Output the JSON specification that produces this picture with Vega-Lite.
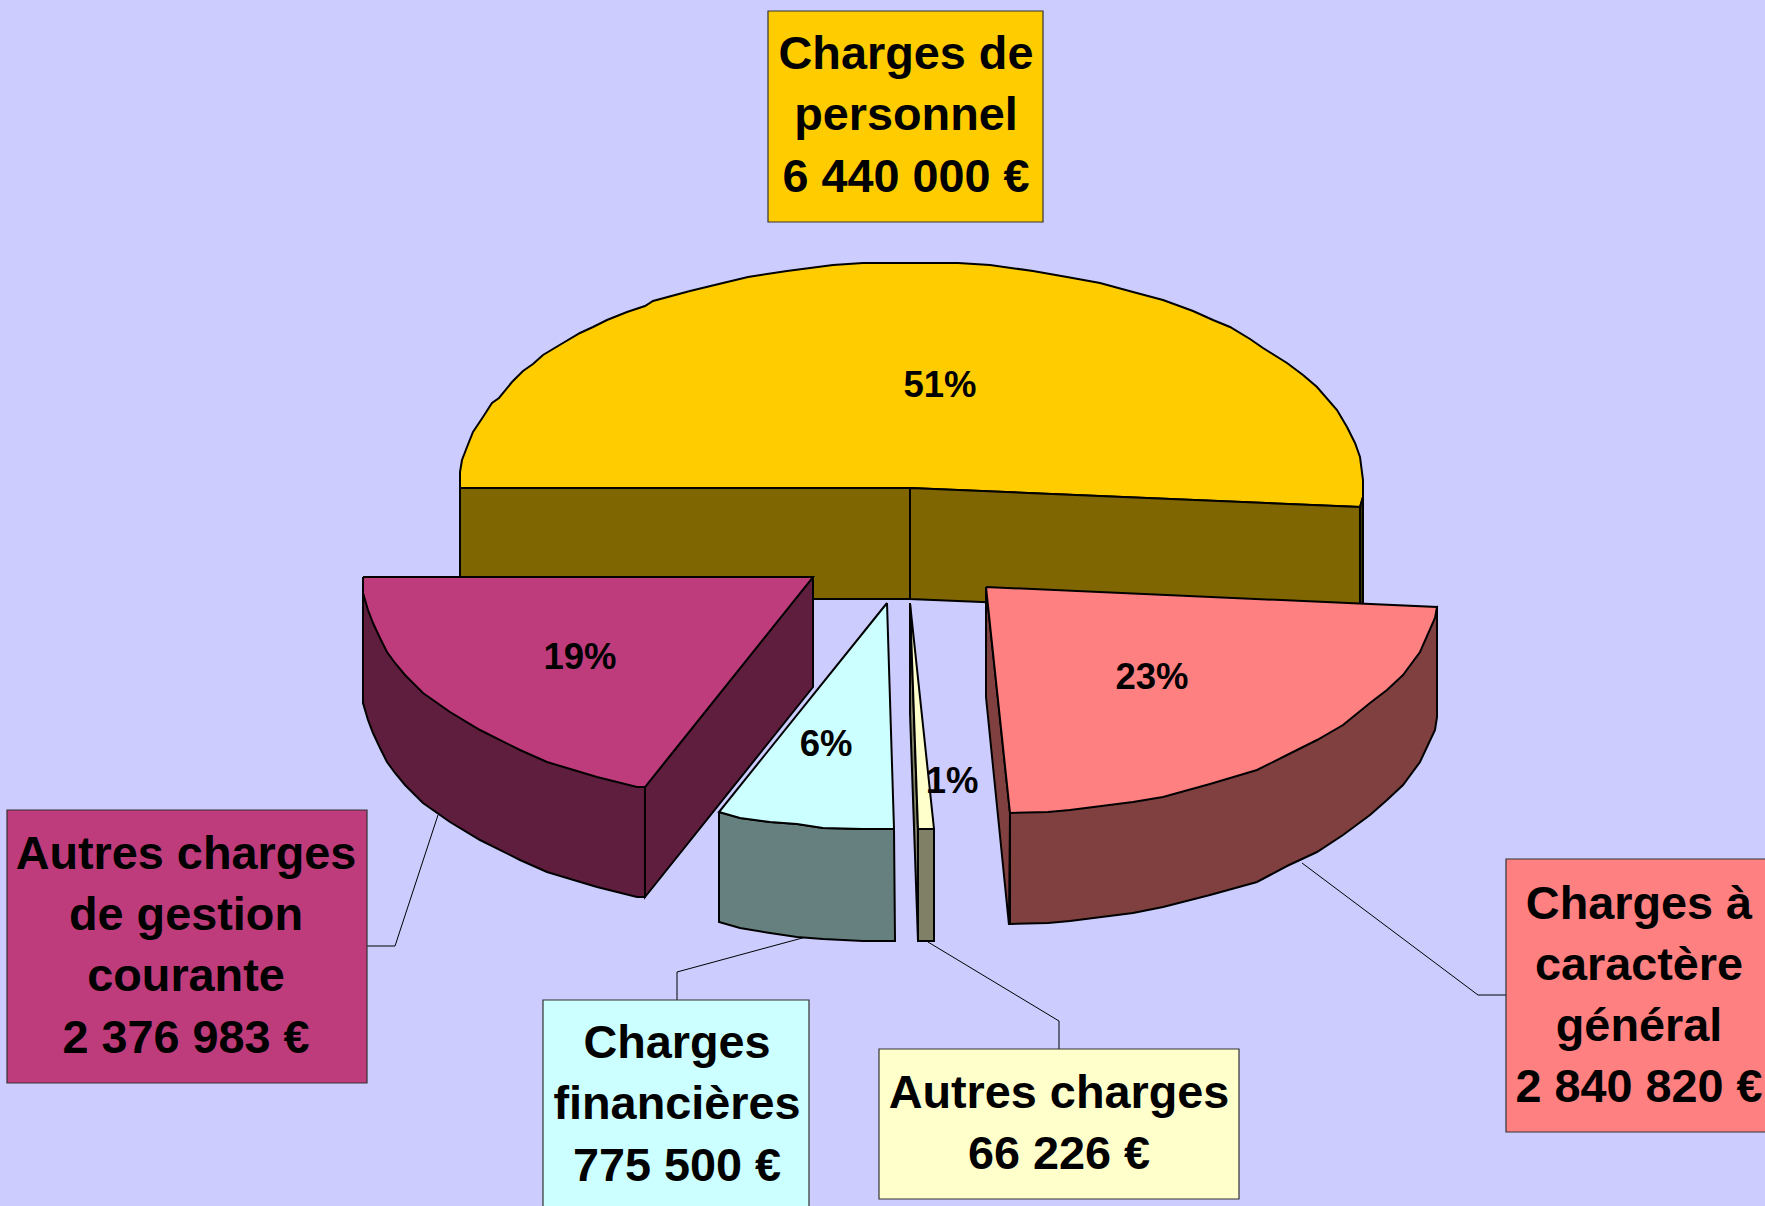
{"$schema":"https://vega.github.io/schema/vega-lite/v6.json","width":1765,"height":1206,"padding":0,"autosize":"none","background":"#CCCCFF","config":{"view":{"stroke":null}},
"datasets":{
"faces":[
{"shape":"p-top","surface":"personnel dessus","i":1,"x":460,"y":488},{"shape":"p-top","surface":"personnel dessus","i":2,"x":460,"y":472},{"shape":"p-top","surface":"personnel dessus","i":3,"x":462,"y":460},{"shape":"p-top","surface":"personnel dessus","i":4,"x":467,"y":447},{"shape":"p-top","surface":"personnel dessus","i":5,"x":473,"y":432},{"shape":"p-top","surface":"personnel dessus","i":6,"x":483,"y":417},{"shape":"p-top","surface":"personnel dessus","i":7,"x":492,"y":403},{"shape":"p-top","surface":"personnel dessus","i":8,"x":499,"y":398},{"shape":"p-top","surface":"personnel dessus","i":9,"x":512,"y":382},{"shape":"p-top","surface":"personnel dessus","i":10,"x":523,"y":371},{"shape":"p-top","surface":"personnel dessus","i":11,"x":533,"y":364},{"shape":"p-top","surface":"personnel dessus","i":12,"x":543,"y":355},{"shape":"p-top","surface":"personnel dessus","i":13,"x":563,"y":343},{"shape":"p-top","surface":"personnel dessus","i":14,"x":580,"y":333},{"shape":"p-top","surface":"personnel dessus","i":15,"x":593,"y":327},{"shape":"p-top","surface":"personnel dessus","i":16,"x":607,"y":320},{"shape":"p-top","surface":"personnel dessus","i":17,"x":627,"y":312},{"shape":"p-top","surface":"personnel dessus","i":18,"x":645,"y":306},{"shape":"p-top","surface":"personnel dessus","i":19,"x":653,"y":301},{"shape":"p-top","surface":"personnel dessus","i":20,"x":690,"y":291},{"shape":"p-top","surface":"personnel dessus","i":21,"x":723,"y":283},{"shape":"p-top","surface":"personnel dessus","i":22,"x":748,"y":277},{"shape":"p-top","surface":"personnel dessus","i":23,"x":787,"y":271},{"shape":"p-top","surface":"personnel dessus","i":24,"x":833,"y":265},{"shape":"p-top","surface":"personnel dessus","i":25,"x":863,"y":263},{"shape":"p-top","surface":"personnel dessus","i":26,"x":958,"y":263},{"shape":"p-top","surface":"personnel dessus","i":27,"x":990,"y":265},{"shape":"p-top","surface":"personnel dessus","i":28,"x":1033,"y":271},{"shape":"p-top","surface":"personnel dessus","i":29,"x":1067,"y":277},{"shape":"p-top","surface":"personnel dessus","i":30,"x":1100,"y":283},{"shape":"p-top","surface":"personnel dessus","i":31,"x":1133,"y":292},{"shape":"p-top","surface":"personnel dessus","i":32,"x":1163,"y":300},{"shape":"p-top","surface":"personnel dessus","i":33,"x":1193,"y":311},{"shape":"p-top","surface":"personnel dessus","i":34,"x":1213,"y":320},{"shape":"p-top","surface":"personnel dessus","i":35,"x":1230,"y":327},{"shape":"p-top","surface":"personnel dessus","i":36,"x":1250,"y":339},{"shape":"p-top","surface":"personnel dessus","i":37,"x":1263,"y":348},{"shape":"p-top","surface":"personnel dessus","i":38,"x":1287,"y":363},{"shape":"p-top","surface":"personnel dessus","i":39,"x":1303,"y":375},{"shape":"p-top","surface":"personnel dessus","i":40,"x":1317,"y":387},{"shape":"p-top","surface":"personnel dessus","i":41,"x":1337,"y":410},{"shape":"p-top","surface":"personnel dessus","i":42,"x":1347,"y":427},{"shape":"p-top","surface":"personnel dessus","i":43,"x":1355,"y":443},{"shape":"p-top","surface":"personnel dessus","i":44,"x":1360,"y":457},{"shape":"p-top","surface":"personnel dessus","i":45,"x":1363,"y":480},{"shape":"p-top","surface":"personnel dessus","i":46,"x":1363,"y":497},{"shape":"p-top","surface":"personnel dessus","i":47,"x":1360,"y":507},{"shape":"p-top","surface":"personnel dessus","i":48,"x":910,"y":488},{"shape":"p-top","surface":"personnel dessus","i":49,"x":460,"y":488},
{"shape":"p-s1","surface":"personnel côté","i":1,"x":460,"y":488},{"shape":"p-s1","surface":"personnel côté","i":2,"x":910,"y":488},{"shape":"p-s1","surface":"personnel côté","i":3,"x":910,"y":599},{"shape":"p-s1","surface":"personnel côté","i":4,"x":460,"y":599},{"shape":"p-s1","surface":"personnel côté","i":5,"x":460,"y":488},
{"shape":"p-s2","surface":"personnel côté","i":1,"x":910,"y":488},{"shape":"p-s2","surface":"personnel côté","i":2,"x":1360,"y":507},{"shape":"p-s2","surface":"personnel côté","i":3,"x":1360,"y":618},{"shape":"p-s2","surface":"personnel côté","i":4,"x":910,"y":599},{"shape":"p-s2","surface":"personnel côté","i":5,"x":910,"y":488},
{"shape":"p-e","surface":"personnel bord","i":1,"x":1360,"y":507},{"shape":"p-e","surface":"personnel bord","i":2,"x":1363,"y":497},{"shape":"p-e","surface":"personnel bord","i":3,"x":1363,"y":606},{"shape":"p-e","surface":"personnel bord","i":4,"x":1360,"y":606},{"shape":"p-e","surface":"personnel bord","i":5,"x":1360,"y":507},
{"shape":"f-s","surface":"financières côté","i":1,"x":719,"y":812},{"shape":"f-s","surface":"financières côté","i":2,"x":740,"y":818},{"shape":"f-s","surface":"financières côté","i":3,"x":770,"y":822},{"shape":"f-s","surface":"financières côté","i":4,"x":797,"y":824},{"shape":"f-s","surface":"financières côté","i":5,"x":823,"y":828},{"shape":"f-s","surface":"financières côté","i":6,"x":863,"y":829},{"shape":"f-s","surface":"financières côté","i":7,"x":894,"y":829},{"shape":"f-s","surface":"financières côté","i":8,"x":895,"y":941},{"shape":"f-s","surface":"financières côté","i":9,"x":863,"y":941},{"shape":"f-s","surface":"financières côté","i":10,"x":823,"y":939},{"shape":"f-s","surface":"financières côté","i":11,"x":797,"y":937},{"shape":"f-s","surface":"financières côté","i":12,"x":770,"y":933},{"shape":"f-s","surface":"financières côté","i":13,"x":740,"y":928},{"shape":"f-s","surface":"financières côté","i":14,"x":719,"y":922},{"shape":"f-s","surface":"financières côté","i":15,"x":719,"y":812},
{"shape":"f-t","surface":"financières dessus","i":1,"x":887,"y":603},{"shape":"f-t","surface":"financières dessus","i":2,"x":894,"y":829},{"shape":"f-t","surface":"financières dessus","i":3,"x":863,"y":829},{"shape":"f-t","surface":"financières dessus","i":4,"x":823,"y":828},{"shape":"f-t","surface":"financières dessus","i":5,"x":797,"y":824},{"shape":"f-t","surface":"financières dessus","i":6,"x":770,"y":822},{"shape":"f-t","surface":"financières dessus","i":7,"x":740,"y":818},{"shape":"f-t","surface":"financières dessus","i":8,"x":719,"y":812},{"shape":"f-t","surface":"financières dessus","i":9,"x":887,"y":603},
{"shape":"a-w","surface":"autres côté","i":1,"x":910,"y":603},{"shape":"a-w","surface":"autres côté","i":2,"x":918,"y":829},{"shape":"a-w","surface":"autres côté","i":3,"x":918,"y":941},{"shape":"a-w","surface":"autres côté","i":4,"x":910,"y":713},{"shape":"a-w","surface":"autres côté","i":5,"x":910,"y":603},
{"shape":"a-s","surface":"autres côté","i":1,"x":918,"y":829},{"shape":"a-s","surface":"autres côté","i":2,"x":934,"y":829},{"shape":"a-s","surface":"autres côté","i":3,"x":934,"y":941},{"shape":"a-s","surface":"autres côté","i":4,"x":918,"y":941},{"shape":"a-s","surface":"autres côté","i":5,"x":918,"y":829},
{"shape":"a-t","surface":"autres dessus","i":1,"x":910,"y":603},{"shape":"a-t","surface":"autres dessus","i":2,"x":934,"y":829},{"shape":"a-t","surface":"autres dessus","i":3,"x":918,"y":829},{"shape":"a-t","surface":"autres dessus","i":4,"x":910,"y":603},
{"shape":"g-w","surface":"général côté","i":1,"x":986,"y":587},{"shape":"g-w","surface":"général côté","i":2,"x":986,"y":697},{"shape":"g-w","surface":"général côté","i":3,"x":1009,"y":925},{"shape":"g-w","surface":"général côté","i":4,"x":1010,"y":813},{"shape":"g-w","surface":"général côté","i":5,"x":986,"y":587},
{"shape":"g-s","surface":"général côté","i":1,"x":1010,"y":813},{"shape":"g-s","surface":"général côté","i":2,"x":1437,"y":607},{"shape":"g-s","surface":"général côté","i":3,"x":1437,"y":717},{"shape":"g-s","surface":"général côté","i":4,"x":1435,"y":730},{"shape":"g-s","surface":"général côté","i":5,"x":1420,"y":762},{"shape":"g-s","surface":"général côté","i":6,"x":1403,"y":785},{"shape":"g-s","surface":"général côté","i":7,"x":1387,"y":800},{"shape":"g-s","surface":"général côté","i":8,"x":1370,"y":815},{"shape":"g-s","surface":"général côté","i":9,"x":1343,"y":835},{"shape":"g-s","surface":"général côté","i":10,"x":1317,"y":852},{"shape":"g-s","surface":"général côté","i":11,"x":1287,"y":866},{"shape":"g-s","surface":"général côté","i":12,"x":1257,"y":882},{"shape":"g-s","surface":"général côté","i":13,"x":1210,"y":895},{"shape":"g-s","surface":"général côté","i":14,"x":1163,"y":907},{"shape":"g-s","surface":"général côté","i":15,"x":1133,"y":913},{"shape":"g-s","surface":"général côté","i":16,"x":1070,"y":921},{"shape":"g-s","surface":"général côté","i":17,"x":1048,"y":923},{"shape":"g-s","surface":"général côté","i":18,"x":1010,"y":924},{"shape":"g-s","surface":"général côté","i":19,"x":1010,"y":813},
{"shape":"g-t","surface":"général dessus","i":1,"x":986,"y":587},{"shape":"g-t","surface":"général dessus","i":2,"x":1437,"y":607},{"shape":"g-t","surface":"général dessus","i":3,"x":1435,"y":618},{"shape":"g-t","surface":"général dessus","i":4,"x":1420,"y":652},{"shape":"g-t","surface":"général dessus","i":5,"x":1403,"y":675},{"shape":"g-t","surface":"général dessus","i":6,"x":1387,"y":690},{"shape":"g-t","surface":"général dessus","i":7,"x":1370,"y":703},{"shape":"g-t","surface":"général dessus","i":8,"x":1343,"y":725},{"shape":"g-t","surface":"général dessus","i":9,"x":1317,"y":740},{"shape":"g-t","surface":"général dessus","i":10,"x":1287,"y":755},{"shape":"g-t","surface":"général dessus","i":11,"x":1257,"y":770},{"shape":"g-t","surface":"général dessus","i":12,"x":1210,"y":784},{"shape":"g-t","surface":"général dessus","i":13,"x":1163,"y":797},{"shape":"g-t","surface":"général dessus","i":14,"x":1133,"y":802},{"shape":"g-t","surface":"général dessus","i":15,"x":1070,"y":810},{"shape":"g-t","surface":"général dessus","i":16,"x":1048,"y":812},{"shape":"g-t","surface":"général dessus","i":17,"x":1010,"y":813},{"shape":"g-t","surface":"général dessus","i":18,"x":986,"y":587},
{"shape":"m-w","surface":"gestion côté","i":1,"x":813,"y":577},{"shape":"m-w","surface":"gestion côté","i":2,"x":813,"y":687},{"shape":"m-w","surface":"gestion côté","i":3,"x":645,"y":897},{"shape":"m-w","surface":"gestion côté","i":4,"x":645,"y":787},{"shape":"m-w","surface":"gestion côté","i":5,"x":813,"y":577},
{"shape":"m-s","surface":"gestion côté","i":1,"x":363,"y":577},{"shape":"m-s","surface":"gestion côté","i":2,"x":363,"y":703},{"shape":"m-s","surface":"gestion côté","i":3,"x":368,"y":720},{"shape":"m-s","surface":"gestion côté","i":4,"x":373,"y":733},{"shape":"m-s","surface":"gestion côté","i":5,"x":380,"y":748},{"shape":"m-s","surface":"gestion côté","i":6,"x":387,"y":762},{"shape":"m-s","surface":"gestion côté","i":7,"x":395,"y":773},{"shape":"m-s","surface":"gestion côté","i":8,"x":405,"y":785},{"shape":"m-s","surface":"gestion côté","i":9,"x":423,"y":803},{"shape":"m-s","surface":"gestion côté","i":10,"x":450,"y":822},{"shape":"m-s","surface":"gestion côté","i":11,"x":480,"y":840},{"shape":"m-s","surface":"gestion côté","i":12,"x":520,"y":860},{"shape":"m-s","surface":"gestion côté","i":13,"x":547,"y":872},{"shape":"m-s","surface":"gestion côté","i":14,"x":597,"y":887},{"shape":"m-s","surface":"gestion côté","i":15,"x":637,"y":897},{"shape":"m-s","surface":"gestion côté","i":16,"x":645,"y":897},{"shape":"m-s","surface":"gestion côté","i":17,"x":645,"y":787},{"shape":"m-s","surface":"gestion côté","i":18,"x":363,"y":577},
{"shape":"m-t","surface":"gestion dessus","i":1,"x":363,"y":577},{"shape":"m-t","surface":"gestion dessus","i":2,"x":813,"y":577},{"shape":"m-t","surface":"gestion dessus","i":3,"x":645,"y":787},{"shape":"m-t","surface":"gestion dessus","i":4,"x":637,"y":787},{"shape":"m-t","surface":"gestion dessus","i":5,"x":597,"y":777},{"shape":"m-t","surface":"gestion dessus","i":6,"x":547,"y":762},{"shape":"m-t","surface":"gestion dessus","i":7,"x":520,"y":750},{"shape":"m-t","surface":"gestion dessus","i":8,"x":480,"y":730},{"shape":"m-t","surface":"gestion dessus","i":9,"x":450,"y":712},{"shape":"m-t","surface":"gestion dessus","i":10,"x":423,"y":693},{"shape":"m-t","surface":"gestion dessus","i":11,"x":405,"y":675},{"shape":"m-t","surface":"gestion dessus","i":12,"x":395,"y":663},{"shape":"m-t","surface":"gestion dessus","i":13,"x":387,"y":652},{"shape":"m-t","surface":"gestion dessus","i":14,"x":380,"y":638},{"shape":"m-t","surface":"gestion dessus","i":15,"x":373,"y":623},{"shape":"m-t","surface":"gestion dessus","i":16,"x":368,"y":610},{"shape":"m-t","surface":"gestion dessus","i":17,"x":363,"y":593},{"shape":"m-t","surface":"gestion dessus","i":18,"x":363,"y":577}
],
"leaders":[
{"slice":"gestion","i":1,"x":367,"y":946},{"slice":"gestion","i":2,"x":395,"y":946},{"slice":"gestion","i":3,"x":438,"y":815},
{"slice":"financières","i":1,"x":677,"y":1000},{"slice":"financières","i":2,"x":677,"y":972},{"slice":"financières","i":3,"x":806,"y":937},
{"slice":"autres","i":1,"x":1059,"y":1049},{"slice":"autres","i":2,"x":1059,"y":1021},{"slice":"autres","i":3,"x":928,"y":942},
{"slice":"général","i":1,"x":1506,"y":995},{"slice":"général","i":2,"x":1478,"y":995},{"slice":"général","i":3,"x":1302,"y":863}
],
"boxes":[
{"surface":"personnel dessus","x":768,"x2":1043,"y":11,"y2":222},
{"surface":"gestion dessus","x":7,"x2":367,"y":810,"y2":1083},
{"surface":"financières dessus","x":543,"x2":809,"y":1000,"y2":1220},
{"surface":"autres dessus","x":879,"x2":1239,"y":1049,"y2":1199},
{"surface":"général dessus","x":1506,"x2":1780,"y":859,"y2":1132}
],
"labels":[
{"text":"Charges de","x":906,"y":69},{"text":"personnel","x":906,"y":130},{"text":"6 440 000 €","x":906,"y":192},
{"text":"Autres charges","x":186,"y":869},{"text":"de gestion","x":186,"y":930},{"text":"courante","x":186,"y":991},{"text":"2 376 983 €","x":186,"y":1053},
{"text":"Charges","x":677,"y":1058},{"text":"financières","x":677,"y":1119},{"text":"775 500 €","x":677,"y":1181},
{"text":"Autres charges","x":1059,"y":1108},{"text":"66 226 €","x":1059,"y":1169},
{"text":"Charges à","x":1639,"y":919},{"text":"caractère","x":1639,"y":980},{"text":"général","x":1639,"y":1041},{"text":"2 840 820 €","x":1639,"y":1102}
],
"percents":[
{"text":"51%","x":940,"y":397},{"text":"19%","x":580,"y":669},{"text":"6%","x":826,"y":756},{"text":"1%","x":952,"y":793},{"text":"23%","x":1152,"y":689}
]},
"layer":[
{"data":{"name":"leaders"},"mark":{"type":"line","stroke":"#000000","strokeWidth":1},
"encoding":{"x":{"field":"x","type":"quantitative","scale":{"domain":[0,1765],"nice":false,"zero":false},"axis":null},"y":{"field":"y","type":"quantitative","scale":{"domain":[1206,0],"nice":false,"zero":false},"axis":null},"detail":{"field":"slice"},"order":{"field":"i"}}},
{"data":{"name":"faces"},"mark":{"type":"line","filled":true,"stroke":"#000000","strokeWidth":2,"strokeJoin":"miter"},
"encoding":{"x":{"field":"x","type":"quantitative","axis":null},"y":{"field":"y","type":"quantitative","axis":null},"detail":{"field":"shape"},"order":{"field":"i"},
"fill":{"field":"surface","type":"nominal","legend":null,"scale":{"domain":["personnel dessus","personnel côté","personnel bord","financières dessus","financières côté","autres dessus","autres côté","général dessus","général côté","gestion dessus","gestion côté"],"range":["#FFCC00","#806600","#403300","#CCFFFF","#668080","#FFFFCC","#808066","#FF8080","#804040","#BE3C7C","#5F1E3E"]}}}},
{"data":{"name":"boxes"},"mark":{"type":"rect","stroke":"#333333","strokeWidth":1.2,"clip":true},
"encoding":{"x":{"field":"x","type":"quantitative","axis":null},"x2":{"field":"x2"},"y":{"field":"y","type":"quantitative","axis":null},"y2":{"field":"y2"},"fill":{"field":"surface","type":"nominal","legend":null}}},
{"data":{"name":"labels"},"mark":{"type":"text","font":"Liberation Sans","fontWeight":"bold","fontSize":46.8,"align":"center","baseline":"alphabetic","color":"#000000"},
"encoding":{"x":{"field":"x","type":"quantitative","axis":null},"y":{"field":"y","type":"quantitative","axis":null},"text":{"field":"text"}}},
{"data":{"name":"percents"},"mark":{"type":"text","font":"Liberation Sans","fontWeight":"bold","fontSize":36.5,"align":"center","baseline":"alphabetic","color":"#000000"},
"encoding":{"x":{"field":"x","type":"quantitative","axis":null},"y":{"field":"y","type":"quantitative","axis":null},"text":{"field":"text"}}}
]}
